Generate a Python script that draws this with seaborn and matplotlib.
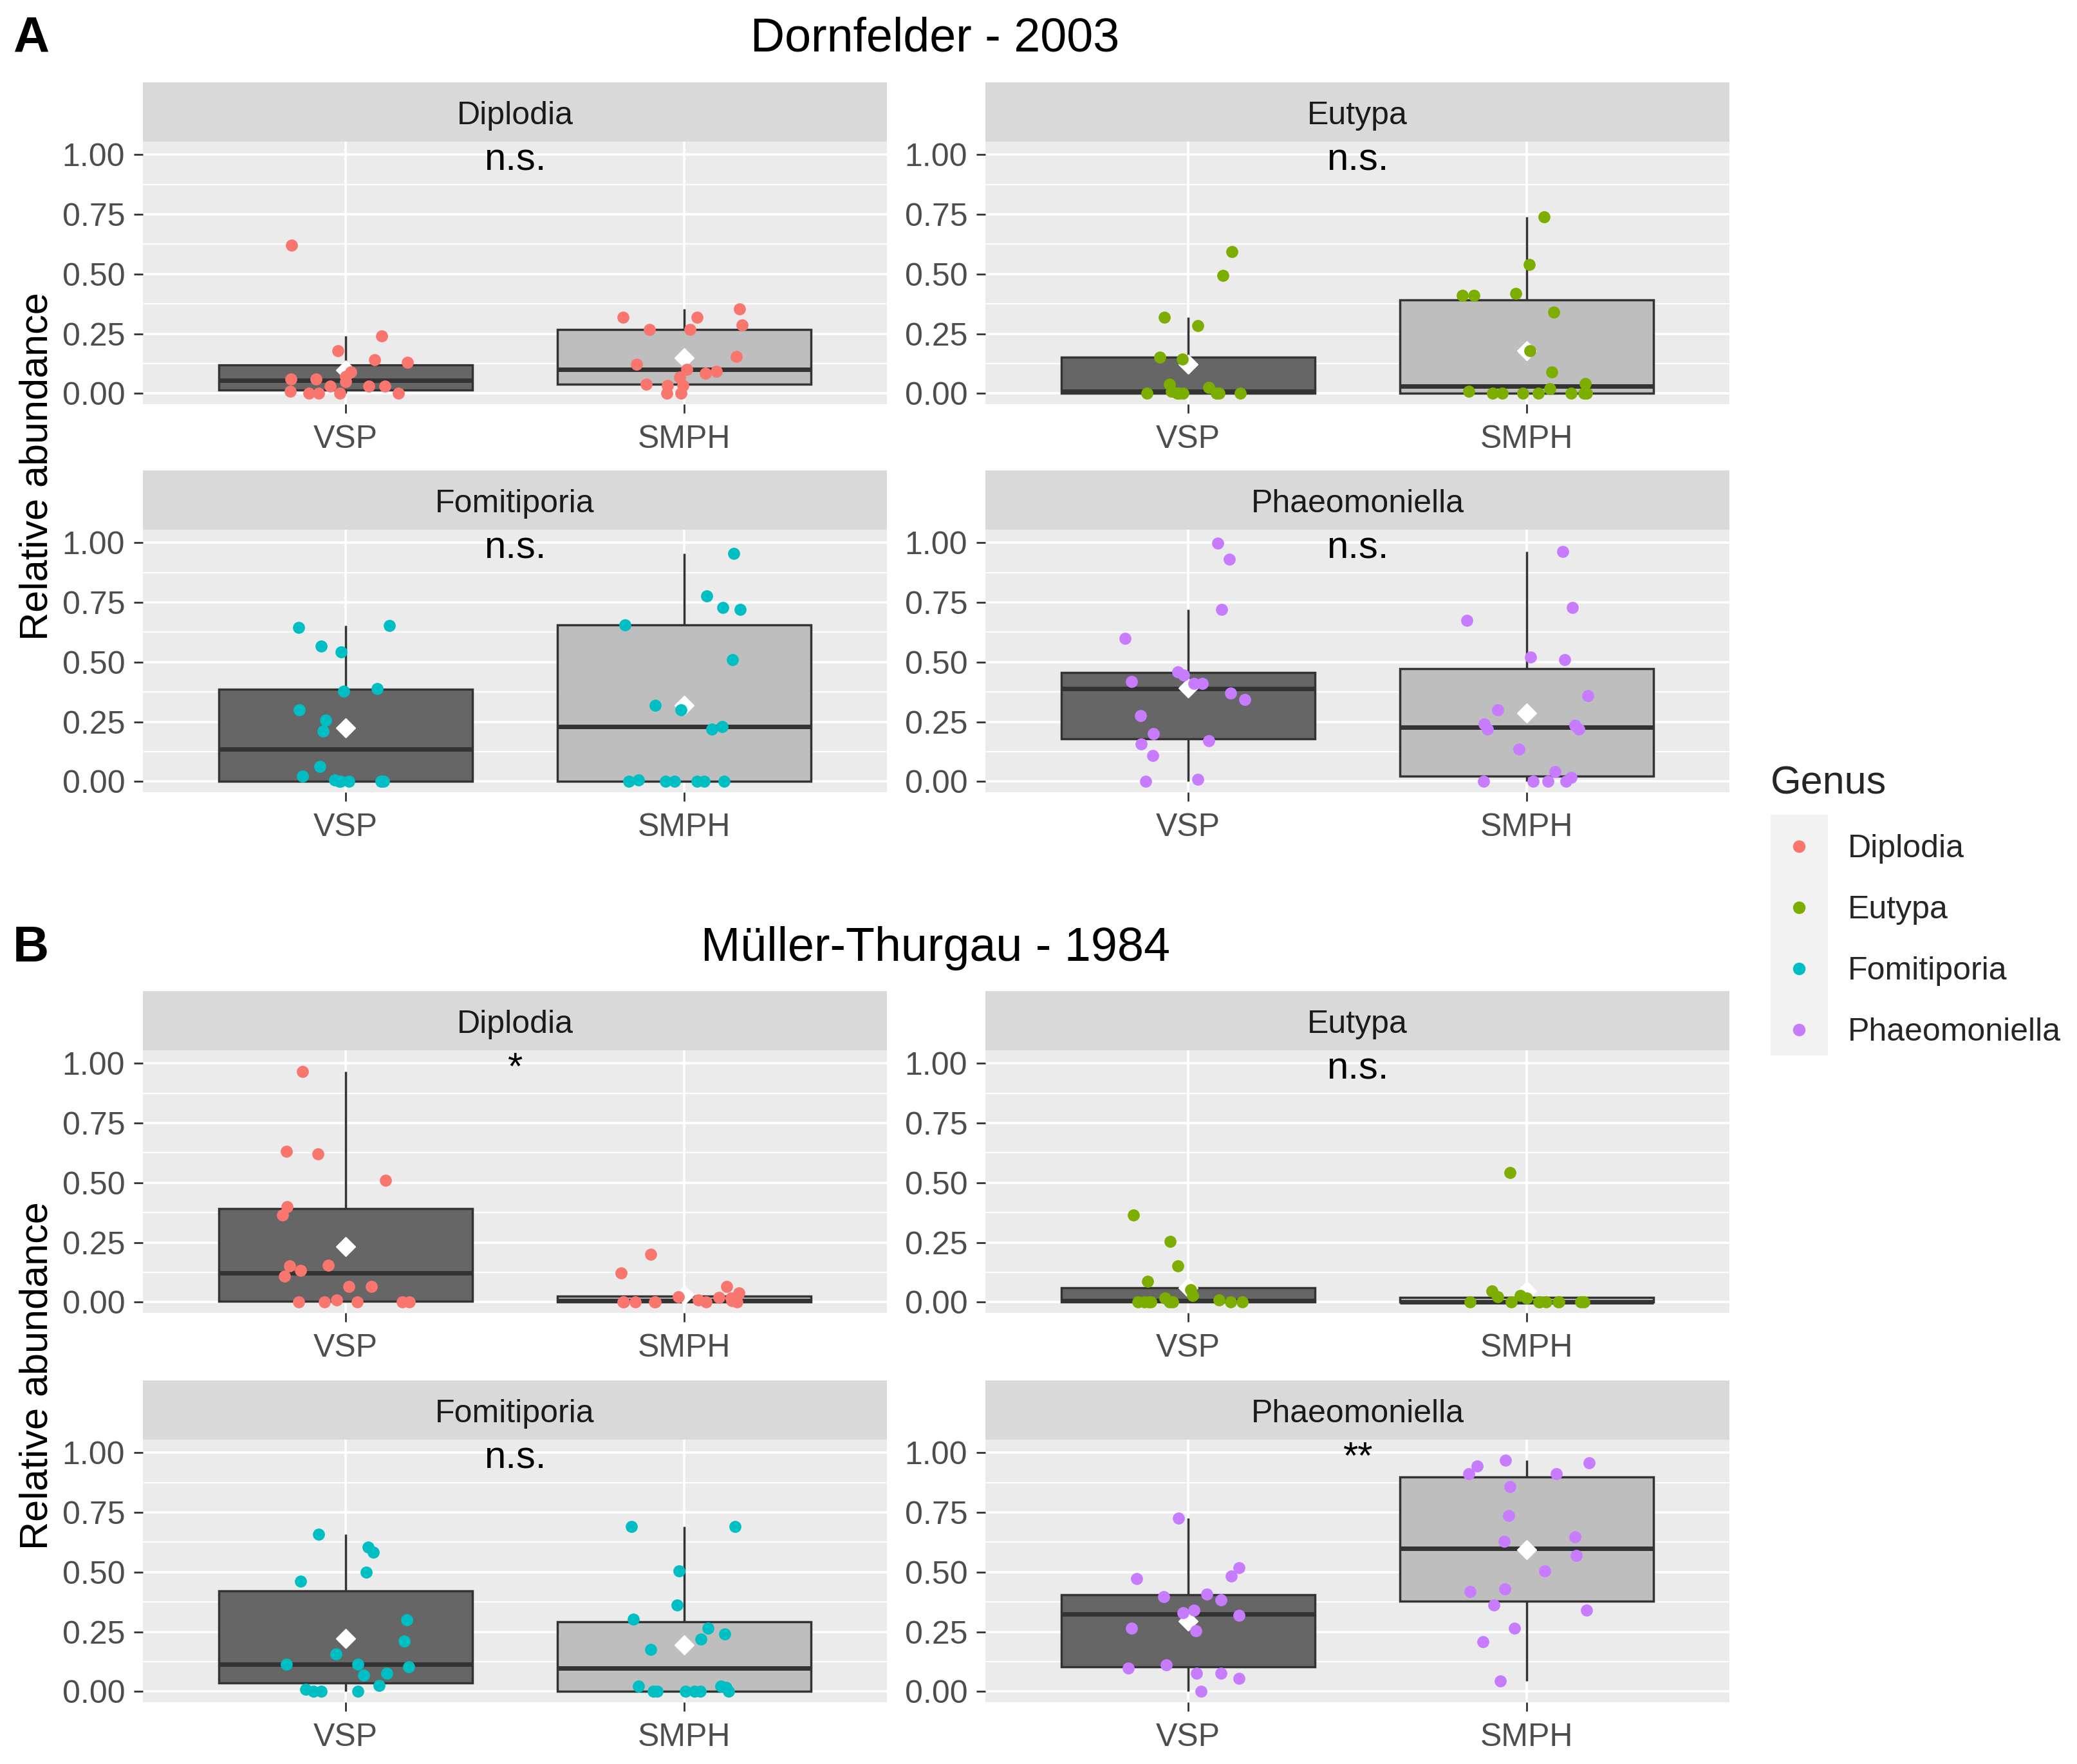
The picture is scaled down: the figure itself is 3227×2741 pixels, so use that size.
import numpy as np
import pandas as pd
import matplotlib.pyplot as plt
import seaborn as sns
from matplotlib.lines import Line2D
from matplotlib.patches import Rectangle
from matplotlib.ticker import MultipleLocator

sns.set_theme(style="darkgrid")
plt.rcParams['font.family'] = ['Liberation Sans', 'DejaVu Sans']
np.random.seed(7)

# ---- data ----
genera = ["Diplodia", "Eutypa", "Fomitiporia", "Phaeomoniella"]
treatments = ["VSP", "SMPH"]
genus_colors = ["#F8766D", "#7CAE00", "#00BFC4", "#C77CFF"]
box_colors = ["#666666", "#BEBEBE"]

# A: Dornfelder - 2003
dorn_diplodia_vsp = [0.62, 0.24, 0.18, 0.14, 0.13, 0.09, 0.07, 0.06, 0.06, 0.05, 0.03, 0.03, 0.03, 0.01, 0.0, 0.0, 0.0, 0.0]
dorn_diplodia_smph = [0.355, 0.32, 0.32, 0.287, 0.267, 0.267, 0.155, 0.123, 0.10, 0.093, 0.084, 0.068, 0.038, 0.032, 0.032, 0.0, 0.0]
dorn_eutypa_vsp = [0.595, 0.495, 0.32, 0.285, 0.153, 0.145, 0.038, 0.026, 0.01, 0.0, 0.0, 0.0, 0.0, 0.0, 0.0, 0.0, 0.0]
dorn_eutypa_smph = [0.74, 0.54, 0.42, 0.41, 0.41, 0.34, 0.18, 0.09, 0.04, 0.02, 0.01, 0.0, 0.0, 0.0, 0.0, 0.0, 0.0, 0.0]
dorn_fomitiporia_vsp = [0.654, 0.645, 0.566, 0.543, 0.389, 0.378, 0.30, 0.256, 0.211, 0.062, 0.023, 0.005, 0.0, 0.0, 0.0, 0.0, 0.0, 0.0]
dorn_fomitiporia_smph = [0.955, 0.778, 0.73, 0.722, 0.655, 0.51, 0.32, 0.30, 0.231, 0.22, 0.005, 0.0, 0.0, 0.0, 0.0, 0.0, 0.0]
dorn_phaeo_vsp = [0.998, 0.93, 0.72, 0.60, 0.46, 0.445, 0.42, 0.41, 0.41, 0.37, 0.344, 0.276, 0.20, 0.17, 0.156, 0.11, 0.01, 0.0]
dorn_phaeo_smph = [0.964, 0.73, 0.676, 0.52, 0.51, 0.36, 0.30, 0.24, 0.235, 0.22, 0.22, 0.135, 0.04, 0.017, 0.0, 0.0, 0.0, 0.0]
dorn_signif = ["n.s.", "n.s.", "n.s.", "n.s."]

# B: Müller-Thurgau - 1984
muller_diplodia_vsp = [0.966, 0.633, 0.622, 0.51, 0.40, 0.365, 0.155, 0.153, 0.132, 0.11, 0.065, 0.065, 0.01, 0.0, 0.0, 0.0, 0.0, 0.0]
muller_diplodia_smph = [0.199, 0.122, 0.065, 0.038, 0.022, 0.02, 0.016, 0.01, 0.005, 0.0, 0.0, 0.0, 0.0, 0.0, 0.0, 0.0]
muller_eutypa_vsp = [0.365, 0.253, 0.153, 0.086, 0.052, 0.028, 0.018, 0.01, 0.0, 0.0, 0.0, 0.0, 0.0, 0.0, 0.0, 0.0]
muller_eutypa_smph = [0.543, 0.046, 0.028, 0.022, 0.016, 0.0, 0.0, 0.0, 0.0, 0.0, 0.0, 0.0, 0.0, 0.0]
muller_fomitiporia_vsp = [0.66, 0.604, 0.582, 0.50, 0.462, 0.30, 0.211, 0.156, 0.113, 0.113, 0.104, 0.077, 0.068, 0.024, 0.01, 0.0, 0.0, 0.0]
muller_fomitiporia_smph = [0.692, 0.692, 0.505, 0.363, 0.302, 0.264, 0.242, 0.22, 0.176, 0.022, 0.022, 0.016, 0.0, 0.0, 0.0, 0.0, 0.0, 0.0]
muller_phaeo_vsp = [0.725, 0.518, 0.484, 0.473, 0.409, 0.398, 0.385, 0.341, 0.33, 0.319, 0.264, 0.253, 0.112, 0.099, 0.077, 0.077, 0.055, 0.0]
muller_phaeo_smph = [0.969, 0.958, 0.945, 0.912, 0.912, 0.857, 0.738, 0.648, 0.629, 0.571, 0.505, 0.429, 0.42, 0.363, 0.341, 0.264, 0.209, 0.044]
muller_signif = ["*", "n.s.", "n.s.", "**"]


def long_table(pairs):
    rows = []
    for genus, vals in zip(genera, pairs):
        for trt, series in zip(treatments, vals):
            for v in series:
                rows.append((genus, trt, v))
    return pd.DataFrame(rows, columns=["Genus", "Treatment", "Abundance"])


dorn = long_table([(dorn_diplodia_vsp, dorn_diplodia_smph),
                   (dorn_eutypa_vsp, dorn_eutypa_smph),
                   (dorn_fomitiporia_vsp, dorn_fomitiporia_smph),
                   (dorn_phaeo_vsp, dorn_phaeo_smph)])
muller = long_table([(muller_diplodia_vsp, muller_diplodia_smph),
                     (muller_eutypa_vsp, muller_eutypa_smph),
                     (muller_fomitiporia_vsp, muller_fomitiporia_smph),
                     (muller_phaeo_vsp, muller_phaeo_smph)])

# ---- layout (pixels of the 3227x2741 canvas) ----
W, H = 3227, 2741
fig = plt.figure(figsize=(W / 100, H / 100), dpi=100)
fig.patch.set_facecolor("white")
col_left = [222, 1531]
panel_w, panel_h, strip_h = 1156, 408, 92


def draw_panel(ax, sub, genus, colour, signif):
    sns.boxplot(data=sub, x="Treatment", y="Abundance", order=treatments,
                hue="Treatment", hue_order=treatments, palette=box_colors,
                width=0.75, showfliers=False, showcaps=False, showmeans=True,
                meanprops=dict(marker="D", markerfacecolor="white",
                               markeredgecolor="white", markersize=15),
                linecolor="#333333", linewidth=2.5,
                medianprops=dict(color="#333333", linewidth=5),
                legend=False, ax=ax)
    sns.stripplot(data=sub, x="Treatment", y="Abundance", order=treatments,
                  color=colour, jitter=0.19, size=13.5, linewidth=0,
                  zorder=5, ax=ax)
    ax.set_facecolor("#EBEBEB")
    ax.set_xlim(-0.6, 1.6)
    ax.set_ylim(-0.045, 1.055)
    ax.set_yticks([0, 0.25, 0.5, 0.75, 1.0])
    ax.set_yticklabels(["0.00", "0.25", "0.50", "0.75", "1.00"])
    ax.yaxis.set_minor_locator(MultipleLocator(0.125))
    ax.grid(which="major", color="white", linewidth=2.6)
    ax.grid(which="minor", axis="y", color="white", linewidth=1.3)
    ax.set_axisbelow(True)
    for s in ax.spines.values():
        s.set_visible(False)
    ax.tick_params(axis="both", which="major", length=10, width=2,
                   color="#333333", labelsize=36, labelcolor="#4D4D4D",
                   bottom=True, left=True)
    ax.tick_params(axis="x", pad=13)
    ax.tick_params(axis="y", pad=10)
    ax.tick_params(which="minor", length=0)
    ax.set_xlabel("")
    ax.set_ylabel("")
    # facet strip
    frac = strip_h / panel_h
    ax.add_patch(Rectangle((0, 1), 1, frac, transform=ax.transAxes,
                           facecolor="#D9D9D9", edgecolor="none", clip_on=False))
    ax.text(0.5, 1 + frac / 2 - 6 / panel_h, genus, transform=ax.transAxes,
            ha="center", va="center", fontsize=36, color="#1A1A1A")
    ax.text(0.5, 0.935, signif, ha="center", va="baseline", fontsize=43,
            color="black")


blocks = [("A", "Dornfelder - 2003", dorn, dorn_signif, [220, 823], 60, 725),
          ("B", "Müller-Thurgau - 1984", muller, muller_signif, [1632, 2237], 1474, 2138)]

for tag, title, df, signif, row_tops, title_y, ylab_y in blocks:
    for i, genus in enumerate(genera):
        r, c = divmod(i, 2)
        top = row_tops[r]
        ax = fig.add_axes([col_left[c] / W, 1 - (top + panel_h) / H,
                           panel_w / W, panel_h / H])
        draw_panel(ax, df[df["Genus"] == genus], genus, genus_colors[i], signif[i])
    fig.text(1453 / W, 1 - title_y / H, title, ha="center", va="center",
             fontsize=53, color="black")
    fig.text(48 / W, 1 - title_y / H, tag, ha="center", va="center",
             fontsize=56, fontweight="bold", color="black")
    fig.text(58 / W, 1 - ylab_y / H, "Relative abundance", rotation=90,
             ha="center", va="center", fontsize=44, color="black")

# legend
fig.patches.append(Rectangle((2751 / W, 1 - 1640 / H), 89 / W, 374 / H,
                             transform=fig.transFigure, facecolor="#F2F2F2",
                             edgecolor="none", zorder=0))
handles = [Line2D([], [], marker="o", linestyle="", color=c, markersize=13)
           for c in genus_colors]
fig.legend(handles, genera, title="Genus", loc="upper left",
           bbox_to_anchor=(2751 / W, 1 - 1190 / H), frameon=False,
           fontsize=36, title_fontsize=44, borderpad=0, borderaxespad=0,
           handlelength=1.76, handletextpad=0.64, labelspacing=0.98,
           alignment="left")

fig.savefig("out.png", dpi=100)
